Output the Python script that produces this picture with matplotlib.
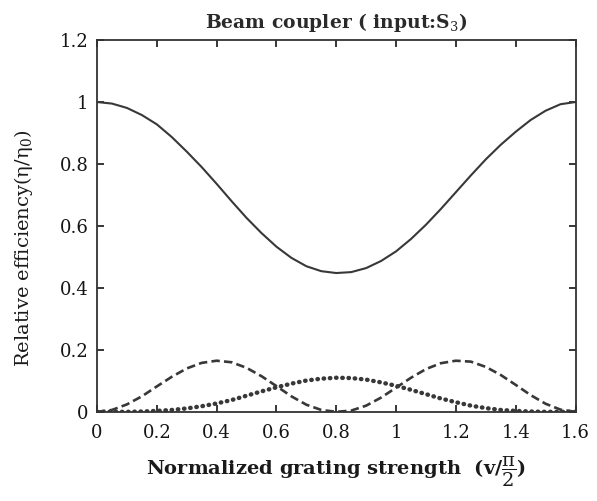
import numpy as np
import matplotlib
matplotlib.use("Agg")
import matplotlib.pyplot as plt

plt.rcParams['font.family'] = ['DejaVu Serif']
plt.rcParams['mathtext.fontset'] = 'dejavuserif'

# grating strength (v / (pi/2))
x = [0.00, 0.05, 0.10, 0.15, 0.20, 0.25, 0.30, 0.35, 0.40, 0.45, 0.50,
     0.55, 0.60, 0.65, 0.70, 0.75, 0.80, 0.85, 0.90, 0.95, 1.00, 1.05,
     1.10, 1.15, 1.20, 1.25, 1.30, 1.35, 1.40, 1.45, 1.50, 1.55, 1.60]

# transmitted beam (solid)
eta_main = [1.000, 0.995, 0.981, 0.958, 0.928, 0.887, 0.840, 0.790, 0.736,
            0.680, 0.626, 0.577, 0.533, 0.497, 0.470, 0.454, 0.448, 0.451,
            0.464, 0.487, 0.518, 0.558, 0.604, 0.655, 0.709, 0.763, 0.815,
            0.862, 0.904, 0.942, 0.972, 0.993, 1.000]

# coupled beams (dashed)
eta_dash = [0.000, 0.006, 0.024, 0.050, 0.082, 0.113, 0.140, 0.158, 0.165,
            0.160, 0.142, 0.115, 0.083, 0.050, 0.023, 0.006, 0.000, 0.004,
            0.020, 0.046, 0.078, 0.110, 0.138, 0.157, 0.165, 0.162, 0.145,
            0.119, 0.087, 0.054, 0.026, 0.007, 0.000]

# second-order beams (dotted)
eta_dot = [0.000, 0.000, 0.000, 0.001, 0.003, 0.006, 0.011, 0.018, 0.027,
           0.038, 0.052, 0.066, 0.079, 0.091, 0.101, 0.107, 0.110, 0.109,
           0.104, 0.095, 0.084, 0.071, 0.057, 0.043, 0.031, 0.020, 0.012,
           0.006, 0.003, 0.001, 0.000, 0.000, 0.000]

col = '#383838'

fig = plt.figure(figsize=(5.97, 5.01), dpi=100)
ax = fig.add_axes([0.1625, 0.178, 0.8015, 0.742])

ax.plot(x, eta_main, '-', color=col, lw=1.5)
ax.plot(x, eta_dash, color=col, lw=1.9, linestyle=(0, (3.2, 1.6)))
ax.plot(x, eta_dot, color=col, lw=3.2, linestyle=(0, (0.1, 1.3)),
        dash_capstyle='round')

ax.set_xlim(0, 1.6)
ax.set_ylim(0, 1.2)
ax.set_xticks([0, 0.2, 0.4, 0.6, 0.8, 1.0, 1.2, 1.4, 1.6])
ax.set_xticklabels(['0', '0.2', '0.4', '0.6', '0.8', '1', '1.2', '1.4', '1.6'])
ax.set_yticks([0, 0.2, 0.4, 0.6, 0.8, 1.0, 1.2])
ax.set_yticklabels(['0', '0.2', '0.4', '0.6', '0.8', '1', '1.2'])
ax.tick_params(direction='in', top=True, right=True, length=5, width=1.2,
               labelsize=13, colors='#151515')
ax.tick_params(axis='x', pad=9)
ax.tick_params(axis='y', pad=6)
for s in ax.spines.values():
    s.set_linewidth(1.3)
    s.set_color('#333333')

ax.set_title(r'Beam coupler ( input:S$_3$)', fontsize=13.5, fontweight='bold',
             color='#2a2a2a', pad=9)
ax.set_xlabel(r'Normalized grating strength  (v/$\dfrac{\mathrm{\pi}}{2}$)',
              fontsize=14, fontweight='bold', color='#1a1a1a')
ax.xaxis.set_label_coords(0.5, -0.115)
ax.set_ylabel(r'Relative efficiency($\mathrm{\eta}/\mathrm{\eta}_0$)',
              fontsize=14, color='#1a1a1a')
ax.yaxis.set_label_coords(-0.13, 0.44)

fig.savefig('out.png', dpi=100)
